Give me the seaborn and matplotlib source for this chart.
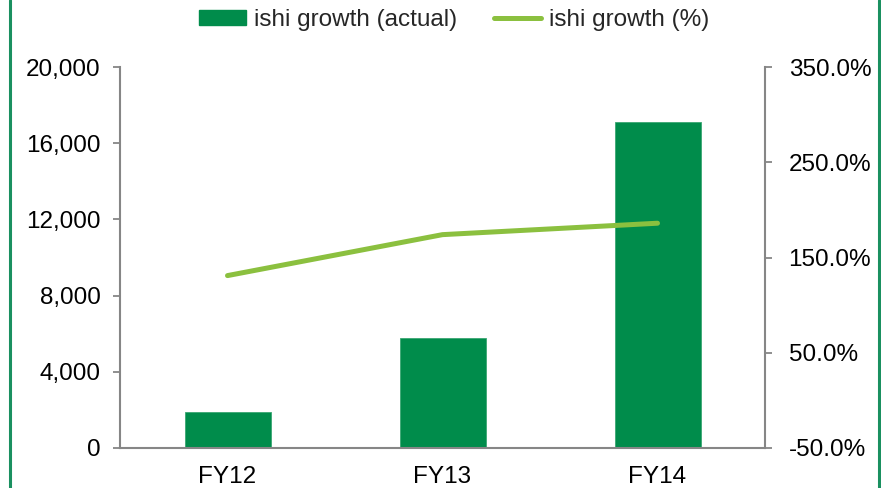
import matplotlib
matplotlib.use('Agg')
import matplotlib.pyplot as plt
import seaborn as sns
from matplotlib.patches import Patch
from matplotlib.lines import Line2D
from matplotlib.ticker import FuncFormatter, MultipleLocator, FixedLocator

# data
years = ["FY12", "FY13", "FY14"]
actual = [1900, 5800, 17100]
growth_pct = [131.0, 174.0, 186.0]
pct_ticks = [-50, 50, 150, 250, 350]

bar_color = "#008C4B"
line_color = "#8BC03F"
axis_gray = "#868686"
fs = 17.5

sns.set_theme(style="white")
plt.rcParams['font.family'] = ['Liberation Sans', 'DejaVu Sans']
plt.rcParams['font.size'] = fs

fig = plt.figure(figsize=(8.81, 4.88), dpi=100)
ax = fig.add_axes([120 / 881, 40 / 488, 645 / 881, 381 / 488])

sns.barplot(x=years, y=actual, ax=ax, color=bar_color, width=0.4,
            saturation=1, edgecolor="#3aa672", linewidth=0.6)
ax.set_ylim(0, 20000)
ax.set_xlim(-0.5, 2.5)
ax.yaxis.set_major_locator(MultipleLocator(4000))
ax.yaxis.set_major_formatter(FuncFormatter(lambda v, p: f"{v:,.0f}"))

ax2 = ax.twinx()
sns.pointplot(x=years, y=growth_pct, ax=ax2, color=line_color, marker="",
              linewidth=3.6, errorbar=None)
for ln in ax2.lines:
    ln.set_solid_capstyle("round")
ax2.set_ylim(-50, 350)
ax2.set_xlim(-0.5, 2.5)
ax2.yaxis.set_major_locator(FixedLocator(pct_ticks))
ax2.yaxis.set_major_formatter(FuncFormatter(lambda v, p: f"{v:.1f}%"))

for a in (ax, ax2):
    a.set_xlabel("")
    a.set_ylabel("")
    a.grid(False)
    a.spines["top"].set_visible(False)
    for s in ("left", "right", "bottom"):
        a.spines[s].set_color(axis_gray)
        a.spines[s].set_linewidth(1.5)

ax.spines["right"].set_visible(False)
ax2.spines["left"].set_visible(False)
ax2.spines["bottom"].set_visible(False)

ax.tick_params(axis="y", direction="out", length=5, width=1.3, color=axis_gray,
               pad=9, labelsize=fs, labelcolor="black", left=True)
ax.tick_params(axis="x", length=0, pad=13, labelsize=fs, labelcolor="black")
ax2.tick_params(axis="y", direction="out", length=5, width=1.3, color=axis_gray,
                pad=12, labelsize=fs, labelcolor="black", right=True)
ax2.tick_params(axis="x", bottom=False, labelbottom=False)

handles = [
    Patch(facecolor=bar_color, edgecolor=bar_color, label="ishi growth (actual)"),
    Line2D([0], [0], color=line_color, lw=3.6, label="ishi growth (%)"),
]
fig.legend(handles=handles, loc="center", bbox_to_anchor=(454 / 881, 1 - 20 / 488),
           ncol=2, frameon=False, fontsize=fs, handlelength=1.95,
           handleheight=0.55, columnspacing=1.5, handletextpad=0.33)

# green frame edges of the original slide
for xf in (9.5 / 881, 878.5 / 881):
    fig.add_artist(Line2D([xf, xf], [0, 1], transform=fig.transFigure,
                          color="#1A9060", lw=2.2))

fig.savefig("out.png", dpi=100)
